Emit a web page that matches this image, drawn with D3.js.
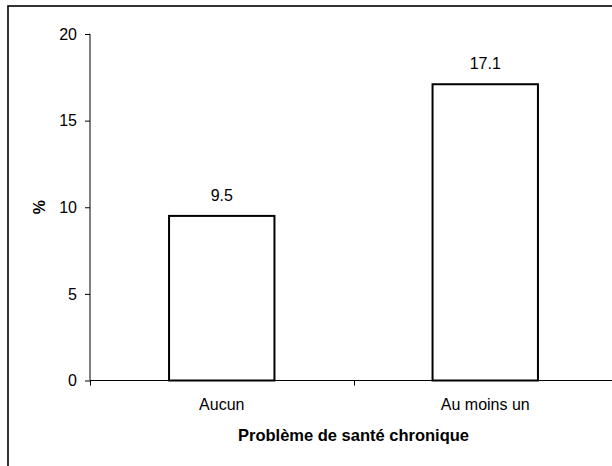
<!DOCTYPE html>
<html>
<head>
<meta charset="utf-8">
<script src="https://cdn.jsdelivr.net/npm/d3@7"></script>
<style>
  html, body { margin: 0; padding: 0; background: #fff; }
  svg { display: block; }
  text { font-family: "Liberation Sans", Arial, sans-serif; fill: #000; }
</style>
</head>
<body>
<svg id="chart" width="612" height="466"></svg>
<script>
// Share (%) by chronic health problem status
const categories = ["Aucun", "Au moins un"];
const values = [9.5, 17.1];
const yTicks = [0, 5, 10, 15, 20];
const xTitle = "Problème de santé chronique";
const yTitle = "%";

const svg = d3.select("#chart");

// outer frame
svg.append("rect")
  .attr("x", 8).attr("y", 6)
  .attr("width", 700).attr("height", 600)
  .attr("fill", "none")
  .attr("stroke", "#000")
  .attr("stroke-width", 1.6);

const plotLeft = 90, plotRight = 617, plotTop = 34, plotBottom = 380.5;

const x = d3.scaleBand()
  .domain(categories)
  .range([plotLeft, plotRight])
  .paddingInner(0.6)
  .paddingOuter(0.3);

const y = d3.scaleLinear()
  .domain([0, 20])
  .range([plotBottom, plotTop]);

// y axis
const yAxis = svg.append("g")
  .attr("transform", `translate(${plotLeft},0)`)
  .call(d3.axisLeft(y).tickValues(yTicks).tickSize(5).tickPadding(8).tickFormat(d3.format("d")));
yAxis.select(".domain").attr("stroke", "#000").attr("d", `M-0.5,${plotTop}H0V${plotBottom}`);
yAxis.selectAll(".tick line").attr("stroke", "#000");
yAxis.selectAll(".tick text")
  .style("font-size", "16px")
  .attr("font-family", null);

// bars
svg.append("g").selectAll("rect")
  .data(values)
  .join("rect")
  .attr("x", (d, i) => x(categories[i]))
  .attr("y", d => y(d))
  .attr("width", x.bandwidth())
  .attr("height", d => y(0) - y(d))
  .attr("fill", "#fff")
  .attr("stroke", "#000")
  .attr("stroke-width", 2);

// x axis: ticks at category boundaries
const boundaries = [plotLeft, plotLeft + x.step(), plotRight];
svg.append("line")
  .attr("x1", plotLeft).attr("x2", plotRight)
  .attr("y1", plotBottom).attr("y2", plotBottom)
  .attr("stroke", "#000").attr("stroke-width", 1);
svg.append("g").selectAll("line")
  .data(boundaries)
  .join("line")
  .attr("x1", d => Math.round(d) + 0.5).attr("x2", d => Math.round(d) + 0.5)
  .attr("y1", plotBottom).attr("y2", plotBottom + 5)
  .attr("stroke", "#000");

svg.append("g").selectAll("text")
  .data(categories)
  .join("text")
  .attr("x", d => x(d) + x.bandwidth() / 2)
  .attr("y", 410)
  .attr("text-anchor", "middle")
  .style("font-size", "16px")
  .text(d => d);

// value labels
svg.append("g").selectAll("text")
  .data(values)
  .join("text")
  .attr("x", (d, i) => x(categories[i]) + x.bandwidth() / 2)
  .attr("y", d => y(d) - 15)
  .attr("text-anchor", "middle")
  .style("font-size", "16px")
  .text(d => d3.format(".1f")(d));

// axis titles
svg.append("text")
  .attr("x", (plotLeft + plotRight) / 2)
  .attr("y", 441)
  .attr("text-anchor", "middle")
  .style("font-size", "16.5px")
  .style("font-weight", "bold")
  .text(xTitle);

svg.append("text")
  .attr("transform", `translate(45,${(plotTop + plotBottom) / 2}) rotate(-90)`)
  .attr("text-anchor", "middle")
  .style("font-size", "16px")
  .style("font-weight", "bold")
  .text(yTitle);
</script>
</body>
</html>
